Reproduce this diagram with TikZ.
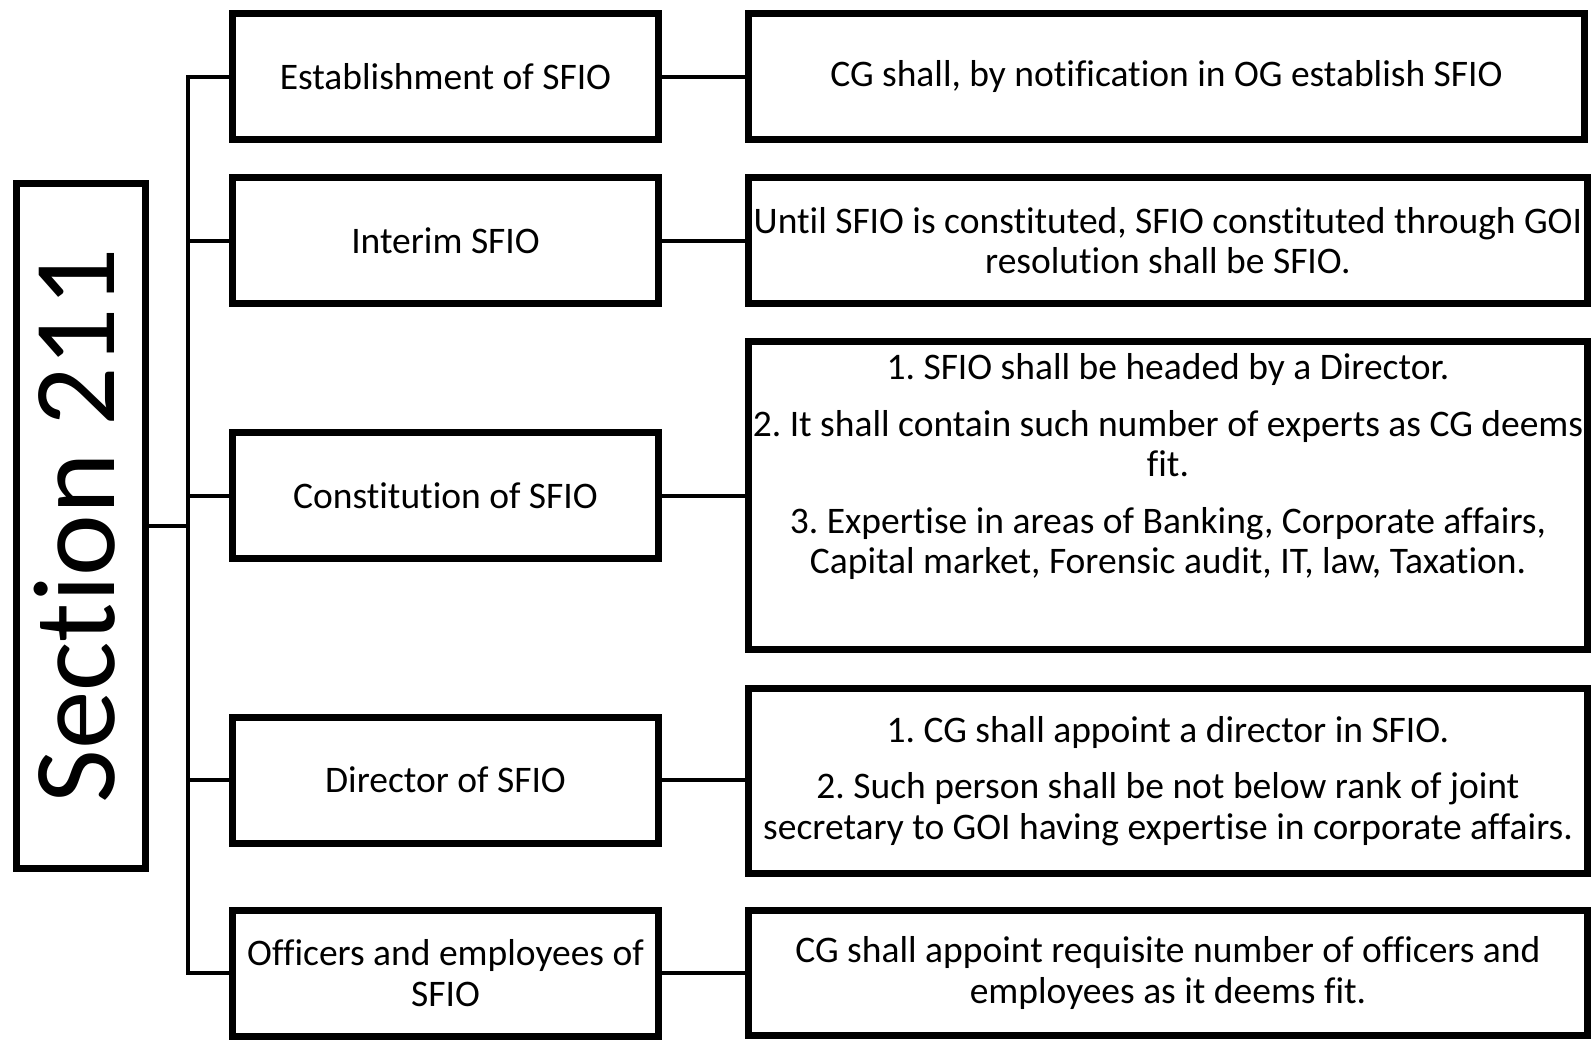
\documentclass[tikz,border=0pt]{standalone}
\usepackage{fontspec}
\setmainfont{Carlito}[Ligatures=NoCommon]
\usetikzlibrary{positioning,shadows}
\frenchspacing

\tikzset{
  box/.style={draw, line width=7pt, fill=white, inner sep=0pt, align=center,
    font=\fontsize{37.5}{40.5}\selectfont,
    drop shadow={shadow xshift=2pt, shadow yshift=-3pt, opacity=0.35}},
  leftbox/.style={box, minimum width=426pt, minimum height=126pt},
  rightbox/.style={box, minimum width=839pt},
  link/.style={line width=4pt}
}

\begin{document}
\begin{tikzpicture}[x=1pt, y=-1pt]
  \useasboundingbox (0,0) rectangle (1593,1039);

  % Sezione principale
  \node (sec) at (81,526) [box, minimum width=685pt, minimum height=129pt,
    rotate=90, text depth=14pt, font=\fontsize{117}{130}\selectfont] {Section 211};

  % Colonna sinistra
  \node (l1) at (445.5,76.5) [leftbox] {Establishment of SFIO};
  \node (l2) at (445.5,240.5) [leftbox] {Interim SFIO};
  \node (l3) at (445.5,495.5) [leftbox] {Constitution of SFIO};
  \node (l4) at (445.5,780) [leftbox] {Director of SFIO};
  \node (l5) at (445.5,973) [leftbox] {Officers and employees of\\SFIO};

  % Colonna destra
  \node (r1) at (1166.5,76.5) [rightbox, minimum width=836pt, minimum height=126pt]
    {CG shall, by notification in OG establish SFIO};
  \node (r2) at (1168,240.5) [rightbox, minimum height=126pt]
    {Until SFIO is constituted, SFIO constituted through GOI\\resolution shall be SFIO.};
  \node (r3) at (1168,495.5) [rightbox, minimum height=308pt] {};
  \node (r3txt) at (1168,466.5) [align=center, inner sep=0pt, font=\fontsize{37.5}{40.5}\selectfont]
    {1. SFIO shall be headed by a Director.\\[16pt]
     2. It shall contain such number of experts as CG deems\\fit.\\[16pt]
     3. Expertise in areas of Banking, Corporate affairs,\\
     Capital market, Forensic audit, IT, law, Taxation.};
  \node (r4) at (1168,781) [rightbox, minimum height=185pt]
    {1. CG shall appoint a director in SFIO.\\[16pt]
     2. Such person shall be not below rank of joint\\
     secretary to GOI having expertise in corporate affairs.};
  \node (r5) at (1168,973) [rightbox, minimum height=125pt]
    {CG shall appoint requisite number of officers and\\employees as it deems fit.};

  % Albero a sinistra
  \coordinate (spine) at (188,0);
  \draw[link] (sec.south) -- (sec.south -| spine);
  \draw[link] (l1.west) -- (l1.west -| spine) -- (l5.west -| spine) -- (l5.west);
  \draw[link] (l2.west) -- (l2.west -| spine);
  \draw[link] (l3.west) -- (l3.west -| spine);
  \draw[link] (l4.west) -- (l4.west -| spine);

  % Collegamenti
  \draw[link] (l1.east) -- (l1.east -| r1.west);
  \draw[link] (l2.east) -- (l2.east -| r2.west);
  \draw[link] (l3.east) -- (l3.east -| r3.west);
  \draw[link] (l4.east) -- (l4.east -| r4.west);
  \draw[link] (l5.east) -- (l5.east -| r5.west);
\end{tikzpicture}
\end{document}
